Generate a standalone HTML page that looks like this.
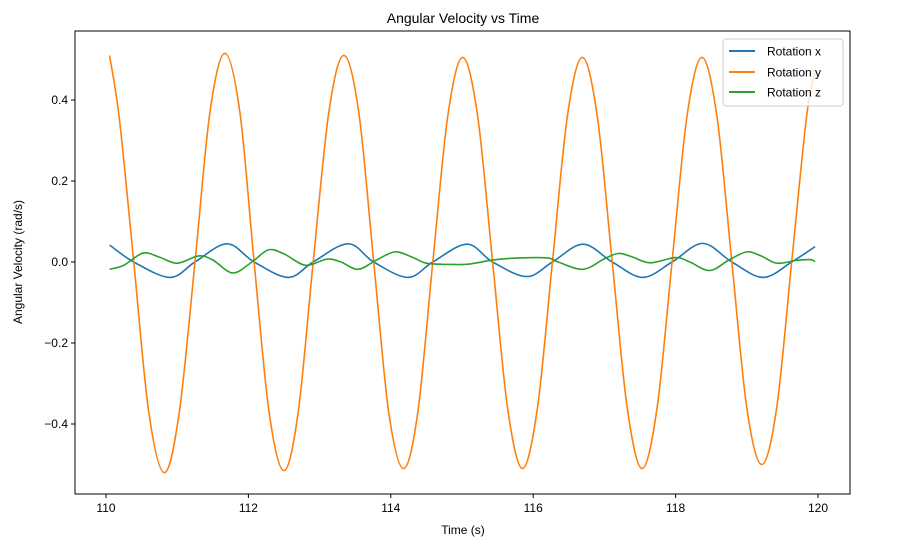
<!DOCTYPE html>
<html><head><meta charset="utf-8"><style>
body{margin:0;background:#fff;}
svg{display:block;font-family:"Liberation Sans","DejaVu Sans",sans-serif;}
</style></head><body>
<svg id="chart" width="902" height="558" viewBox="0 0 902 558">
<rect x="0" y="0" width="902" height="558" fill="#fff"/>
<text x="463" y="23" text-anchor="middle" font-size="14" fill="#000">Angular Velocity vs Time</text>
<text x="463" y="534" text-anchor="middle" font-size="12" fill="#000">Time (s)</text>
<text x="22" y="262" text-anchor="middle" font-size="12" fill="#000" transform="rotate(-90 22 262)">Angular Velocity (rad/s)</text>
<g id="plot"></g>
<g id="axes"></g>
<g>
<rect x="723" y="39" width="120" height="67" rx="3" fill="#fff" fill-opacity="0.8" stroke="#ccc"/>
<line x1="729" y1="51" x2="755" y2="51" stroke="#1f77b4" stroke-width="2"/>
<text x="767" y="55.5" font-size="12" fill="#000">Rotation x</text>
<line x1="729" y1="72" x2="755" y2="72" stroke="#ff7f0e" stroke-width="2"/>
<text x="767" y="76.5" font-size="12" fill="#000">Rotation y</text>
<line x1="729" y1="92" x2="755" y2="92" stroke="#2ca02c" stroke-width="2"/>
<text x="767" y="96.5" font-size="12" fill="#000">Rotation z</text>
</g>
</svg>
<script>
const xTicks=[110,112,114,116,118,120];
const yTicks=[-0.4,-0.2,0.0,0.2,0.4];
const yTime=[110.05,110.19,110.39,110.60,110.82,111.03,111.25,111.46,111.67,111.88,112.08,112.29,112.50,112.70,112.91,113.13,113.34,113.55,113.76,113.97,114.18,114.38,114.59,114.80,115.01,115.22,115.43,115.64,115.85,116.06,116.27,116.48,116.69,116.90,117.11,117.32,117.53,117.74,117.95,118.16,118.37,118.58,118.79,119.00,119.21,119.42,119.63,119.84,119.96];
const yVals=[0.51,0.35,0,-0.37,-0.52,-0.37,0,0.37,0.515,0.37,0,-0.37,-0.515,-0.37,0,0.37,0.51,0.37,0,-0.37,-0.51,-0.37,0,0.36,0.505,0.36,0,-0.36,-0.51,-0.36,0,0.36,0.505,0.36,0,-0.36,-0.51,-0.36,0,0.36,0.505,0.36,0,-0.36,-0.50,-0.36,0,0.36,0.47];
const xTime=[110.05,110.39,110.9,111.25,111.7,112.08,112.56,112.91,113.4,113.76,114.24,114.59,115.07,115.43,115.91,116.27,116.7,117.11,117.54,117.95,118.38,118.79,119.23,119.63,119.96];
const xVals=[0.042,0,-0.038,0,0.045,0,-0.038,0,0.045,0,-0.038,0,0.044,0,-0.036,0,0.044,0,-0.038,0,0.046,0,-0.038,0,0.038];
const zTime=[110.05,110.25,110.52,110.75,111.0,111.3,111.5,111.78,112.05,112.28,112.5,112.8,113.1,113.3,113.54,113.8,114.06,114.3,114.5,114.83,115.1,115.44,115.8,116.2,116.35,116.7,117.0,117.2,117.4,117.64,118.0,118.2,118.48,118.75,119.0,119.2,119.42,119.7,119.89,119.96];
const zVals=[-0.018,-0.008,0.022,0.012,-0.003,0.015,0.005,-0.027,0.0,0.03,0.02,-0.008,0.007,0.0,-0.018,0.005,0.025,0.012,-0.003,-0.006,-0.005,0.005,0.01,0.01,0.0,-0.018,0.008,0.021,0.012,-0.002,0.011,0.0,-0.021,0.005,0.025,0.015,-0.003,0.004,0.006,0.001];

const L=75,R=850,T=31,B=494;
const sx=t=>106+71.2*(t-110);
const sy=v=>262-405*v;
const NS='http://www.w3.org/2000/svg';
const plot=document.getElementById('plot'),axes=document.getElementById('axes');
function mk(tag,attrs,parent){const e=document.createElementNS(NS,tag);for(const k in attrs)e.setAttribute(k,attrs[k]);parent.appendChild(e);return e;}
function smoothPath(ts,vs){
  const p=ts.map((t,i)=>[sx(t),sy(vs[i])]);
  let d='M'+p[0][0].toFixed(2)+','+p[0][1].toFixed(2);
  for(let i=0;i<p.length-1;i++){
    const p0=p[i-1]||p[i],p1=p[i],p2=p[i+1],p3=p[i+2]||p[i+1];
    const c1=[p1[0]+(p2[0]-p0[0])/6,p1[1]+(p2[1]-p0[1])/6];
    const c2=[p2[0]-(p3[0]-p1[0])/6,p2[1]-(p3[1]-p1[1])/6];
    d+='C'+c1.map(n=>n.toFixed(2)).join(',')+' '+c2.map(n=>n.toFixed(2)).join(',')+' '+p2.map(n=>n.toFixed(2)).join(',');
  }
  return d;
}
const sx1=mk('path',{d:smoothPath(xTime,xVals),fill:'none',stroke:'#1f77b4','stroke-width':1.6},plot);


const sy1=mk('path',{d:smoothPath(yTime,yVals),fill:'none',stroke:'#ff7f0e','stroke-width':1.6},plot);


const sz1=mk('path',{d:smoothPath(zTime,zVals),fill:'none',stroke:'#2ca02c','stroke-width':1.6},plot);



const frame=mk('rect',{x:L,y:T,width:R-L,height:B-T,fill:'none',stroke:'#000','stroke-width':1},axes);


xTicks.forEach(t=>{
  const x=sx(t);
  const tk=mk('line',{x1:x,y1:B,x2:x,y2:B+4,stroke:'#000'},axes);
  
  
  const lb=mk('text',{x:x,y:B+18,'text-anchor':'middle','font-size':12,fill:'#000'},axes);
  lb.textContent=String(t);
  
  
});
yTicks.forEach(v=>{
  const y=sy(v);
  const tk=mk('line',{x1:L-4,y1:y,x2:L,y2:y,stroke:'#000'},axes);
  
  
  const lb=mk('text',{x:L-7,y:y+4,'text-anchor':'end','font-size':12,fill:'#000'},axes);
  lb.textContent=(v<0?'\u2212':'')+Math.abs(v).toFixed(1);
  
  
});
</script>
</body></html>
